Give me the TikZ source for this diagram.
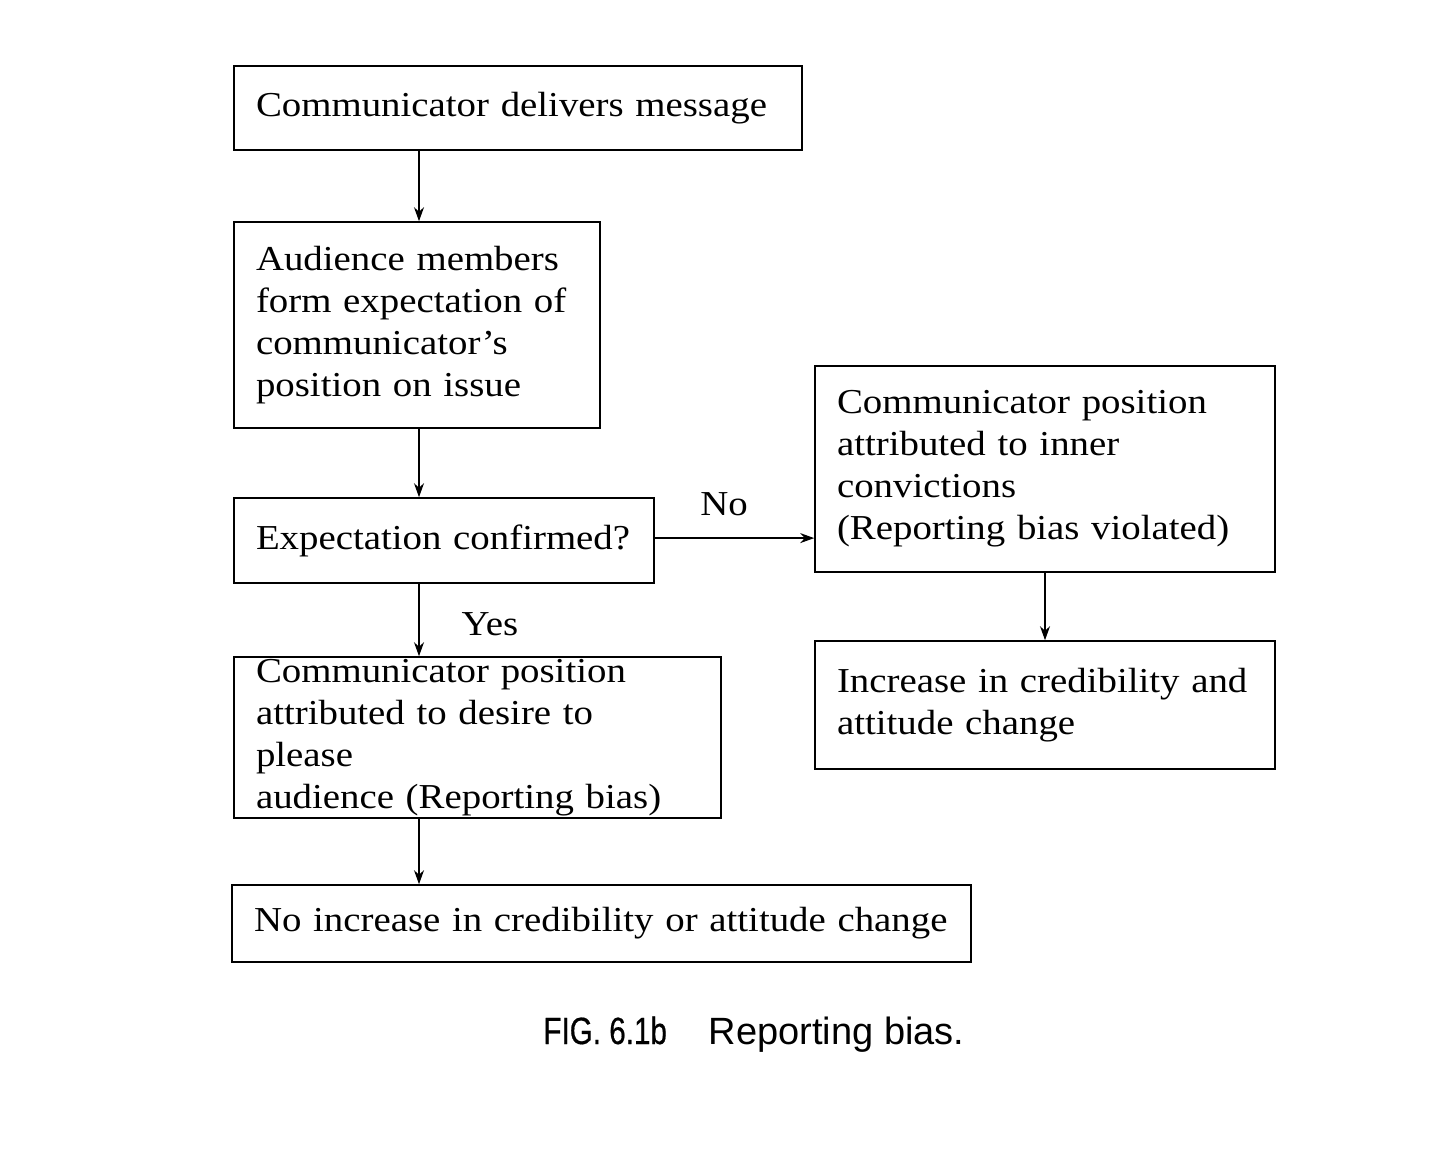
\documentclass[tikz,border=0pt]{standalone}
\usepackage{fontspec}
\setmainfont[FakeStretch=1.11]{Liberation Serif}
\newfontfamily\capfont{Liberation Sans}
\newfontfamily\capbold[FakeStretch=0.78,FakeBold=0.5]{Liberation Sans}
\usetikzlibrary{arrows.meta}
\begin{document}
\begin{tikzpicture}[x=1pt,y=1pt,
  box/.style={draw, line width=0.8pt, inner xsep=11pt, inner ysep=0pt, align=left, font=\fontsize{17.5}{21}\selectfont},
  arr/.style={-{Stealth[length=7pt,width=5pt]}, line width=0.8pt}]
\useasboundingbox (0,0) rectangle (720,-583.5);
\node[box, minimum width=284pt, minimum height=42pt, text width=262pt] (A) at (259,-54) {Communicator delivers message};
\node[box, minimum width=183pt, minimum height=103pt, text width=161pt] (B) at (208.5,-162.5) {Audience members\\form expectation of\\communicator's\\position on issue};
\node[box, minimum width=210pt, minimum height=42.5pt, text width=188pt] (C) at (222,-270.25) {Expectation confirmed?};
\node[box, minimum width=243.5pt, minimum height=80.5pt, text width=221.5pt] (D) at (238.75,-368.75) {Communicator position\\attributed to desire to please\\audience (Reporting bias)};
\node[box, minimum width=369.5pt, minimum height=38.5pt, text width=347.5pt] (E) at (300.75,-461.75) {No increase in credibility or attitude change};
\node[box, minimum width=230pt, minimum height=103pt, text width=208pt] (F) at (522.5,-234.5) {Communicator position\\attributed to inner\\convictions\\(Reporting bias violated)};
\node[box, minimum width=230pt, minimum height=64pt, text width=208pt] (G) at (522.5,-352.5) {Increase in credibility and\\attitude change\\[4pt]};
\coordinate (vx) at (209.5,0);
\draw[arr] (A.south -| vx) -- (B.north -| vx);
\draw[arr] (B.south -| vx) -- (C.north -| vx);
\draw[arr] (C.south -| vx) -- (D.north -| vx);
\draw[arr] (D.south -| vx) -- (E.north -| vx);
\draw[arr] ([yshift=1.2pt]C.east) -- ([yshift=1.2pt]F.west |- C.east);
\draw[arr] (F.south) -- (G.north);
\node[font=\fontsize{17.5}{21}\selectfont] (no) at (362,-252) {No};
\node[font=\fontsize{17.5}{21}\selectfont] (yes) at (245,-312) {Yes};
\node[font=\capfont\fontsize{19}{22}\selectfont, anchor=base west, inner sep=0pt] (cap) at (271.5,-522) {{\capbold FIG. 6.1b}\hspace{21pt}Reporting bias.};
\end{tikzpicture}
\end{document}
